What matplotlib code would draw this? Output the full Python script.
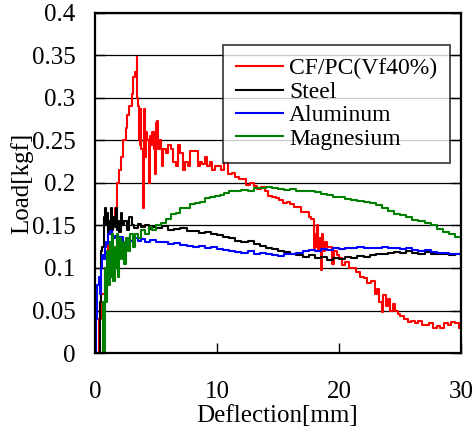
import matplotlib
matplotlib.use("Agg")
import matplotlib.pyplot as plt

plt.rcParams['font.family'] = ['Liberation Serif', 'DejaVu Serif']

# ---- data ----
cf_x = [0.0, 0.1, 0.3, 0.5, 0.8, 1.1, 1.4, 1.6, 1.8, 2.0, 2.1, 2.3, 2.5, 2.6, 2.8, 3.0, 3.1, 3.3, 3.4,
         3.45, 3.5, 3.6, 3.7, 3.75, 3.8, 3.9, 3.95, 4.0, 4.05, 4.1, 4.2, 4.3, 4.4, 4.5, 4.6, 4.7, 4.8,
         4.9, 5.0, 5.1, 5.2, 5.3, 5.4, 5.5, 5.6, 5.8, 6.0, 6.2, 6.4, 6.6, 6.8, 7.0, 7.2, 7.4, 7.6, 7.8,
         8.0, 8.2, 8.4, 8.6, 8.8, 9.0, 9.2, 9.4, 9.6, 9.8, 10.0, 10.3, 10.6, 10.9, 11.2, 11.5, 11.8,
         12.1, 12.4, 12.7, 13.0, 13.3, 13.6, 13.9, 14.2, 14.5, 14.8, 15.1, 15.4, 15.7, 16.0, 16.3, 16.6,
         16.9, 17.2, 17.5, 17.7, 17.9, 18.0, 18.1, 18.2, 18.3, 18.4, 18.5, 18.6, 18.7, 18.8, 19.0, 19.2,
         19.4, 19.6, 19.8, 20.0, 20.2, 20.5, 20.8, 21.1, 21.4, 21.7, 22.0, 22.3, 22.6, 22.9, 23.1, 23.3,
         23.5, 23.6, 23.8, 24.0, 24.2, 24.4, 24.6, 24.8, 25.0, 25.3, 25.6, 25.9, 26.2, 26.5, 26.8, 27.1,
         27.4, 27.7, 28.0, 28.3, 28.6, 28.9, 29.2, 29.5, 29.8, 30.0]
cf_y = [0.0, 0.0, 0.04, 0.07, 0.10, 0.13, 0.15, 0.17, 0.20, 0.215, 0.23, 0.25, 0.265, 0.28, 0.29, 0.305,
        0.325, 0.33, 0.348, 0.30, 0.29, 0.25, 0.245, 0.287, 0.24, 0.20, 0.17, 0.21, 0.287, 0.23, 0.26,
        0.25, 0.20, 0.255, 0.245, 0.26, 0.24, 0.21, 0.27, 0.273, 0.24, 0.25, 0.24, 0.22, 0.24, 0.235,
        0.245, 0.24, 0.225, 0.22, 0.245, 0.235, 0.215, 0.225, 0.22, 0.238, 0.238, 0.238, 0.22, 0.225,
        0.222, 0.23, 0.22, 0.225, 0.215, 0.22, 0.22, 0.215, 0.225, 0.21, 0.212, 0.207, 0.205, 0.205,
        0.198, 0.2, 0.197, 0.193, 0.195, 0.19, 0.185, 0.183, 0.182, 0.18, 0.176, 0.178, 0.175, 0.172,
        0.172, 0.166, 0.166, 0.16, 0.158, 0.123, 0.14, 0.125, 0.15, 0.12, 0.135, 0.098, 0.14, 0.12,
        0.13, 0.125, 0.125, 0.105, 0.12, 0.115, 0.112, 0.103, 0.107, 0.1, 0.1, 0.095, 0.09, 0.088,
        0.082, 0.085, 0.07, 0.075, 0.06, 0.048, 0.068, 0.055, 0.063, 0.05, 0.058, 0.05, 0.046, 0.043,
        0.04, 0.037, 0.038, 0.035, 0.038, 0.033, 0.033, 0.035, 0.03, 0.032, 0.03, 0.035, 0.033, 0.037,
        0.035, 0.03, 0.025]

steel_x = [0.3, 0.4, 0.5, 0.6, 0.7, 0.8, 0.9, 1.0, 1.1, 1.2, 1.3, 1.4, 1.5, 1.6, 1.7, 1.8, 1.9, 2.0,
           2.1, 2.2, 2.4, 2.6, 2.8, 3.0, 3.2, 3.5, 3.8, 4.1, 4.4, 4.7, 5.0, 5.5, 6.0, 6.5, 7.0, 7.5, 8.0,
           8.5, 9.0, 9.5, 10.0, 10.5, 11.0, 11.5, 12.0, 12.5, 13.0, 13.5, 14.0, 14.5, 15.0, 15.5, 16.0,
           16.5, 17.0, 17.5, 18.0, 18.5, 19.0, 19.5, 20.0, 20.5, 21.0, 21.5, 22.0, 22.5, 23.0, 23.5,
           24.0, 24.5, 25.0, 25.5, 26.0, 26.5, 27.0, 27.5, 28.0, 28.5, 29.0, 29.5, 30.0]
steel_y = [0.0, 0.06, 0.12, 0.125, 0.16, 0.17, 0.15, 0.165, 0.14, 0.155, 0.17, 0.145, 0.16, 0.148, 0.17,
           0.145, 0.155, 0.142, 0.165, 0.15, 0.155, 0.145, 0.16, 0.15, 0.147, 0.152, 0.148, 0.15, 0.146,
           0.148, 0.147, 0.149, 0.145, 0.146, 0.147, 0.143, 0.144, 0.141, 0.142, 0.14, 0.139, 0.137,
           0.135, 0.132, 0.13, 0.132, 0.128, 0.126, 0.123, 0.122, 0.12, 0.119, 0.117, 0.115, 0.113,
           0.115, 0.112, 0.113, 0.109, 0.112, 0.111, 0.113, 0.112, 0.114, 0.113, 0.115, 0.116, 0.117,
           0.118, 0.119, 0.118, 0.12, 0.118, 0.117, 0.119, 0.117, 0.116, 0.117, 0.115, 0.116, 0.113]

alu_x = [0.0, 0.1, 0.2, 0.3, 0.4, 0.5, 0.6, 0.7, 0.8, 0.9, 1.0, 1.1, 1.2, 1.4, 1.6, 1.8, 2.0, 2.3, 2.6,
         2.9, 3.2, 3.5, 3.8, 4.1, 4.5, 5.0, 5.5, 6.0, 6.5, 7.0, 7.5, 8.0, 8.5, 9.0, 9.5, 10.0, 10.5,
         11.0, 11.5, 12.0, 12.5, 13.0, 13.5, 14.0, 14.5, 15.0, 15.5, 16.0, 16.5, 17.0, 17.5, 18.0,
         18.5, 19.0, 19.5, 20.0, 20.5, 21.0, 21.5, 22.0, 22.5, 23.0, 23.5, 24.0, 24.5, 25.0, 25.5,
         26.0, 26.5, 27.0, 27.5, 28.0, 28.5, 29.0, 29.5, 30.0]
alu_y = [0.0, 0.04, 0.08, 0.09, 0.07, 0.1, 0.115, 0.11, 0.125, 0.13, 0.128, 0.14, 0.143, 0.135, 0.138,
         0.132, 0.136, 0.13, 0.135, 0.132, 0.135, 0.132, 0.134, 0.13, 0.133, 0.13, 0.131, 0.128, 0.129,
         0.127, 0.126, 0.125, 0.126, 0.123, 0.125, 0.122, 0.121, 0.12, 0.119, 0.118, 0.12, 0.117, 0.118,
         0.116, 0.115, 0.114, 0.116, 0.117, 0.118, 0.12, 0.121, 0.12, 0.122, 0.121, 0.123, 0.122, 0.124,
         0.123, 0.125, 0.124, 0.123, 0.124, 0.125, 0.123, 0.124, 0.122, 0.123, 0.121, 0.12, 0.121,
         0.119, 0.118, 0.118, 0.117, 0.116, 0.113]

mg_x = [0.0, 0.6, 0.65, 0.75, 0.8, 0.9, 1.0, 1.1, 1.2, 1.3, 1.4, 1.5, 1.6, 1.7, 1.8, 1.9, 2.0, 2.1, 2.2,
        2.4, 2.5, 2.7, 2.9, 3.1, 3.3, 3.5, 3.8, 4.1, 4.4, 4.7, 5.0, 5.4, 5.8, 6.2, 6.6, 7.0, 7.4, 7.8,
        8.2, 8.6, 9.0, 9.4, 9.8, 10.2, 10.6, 11.0, 11.5, 12.0, 12.5, 13.0, 13.5, 14.0, 14.5, 15.0, 15.5,
        16.0, 16.5, 17.0, 17.5, 18.0, 18.5, 19.0, 19.5, 20.0, 20.5, 21.0, 21.5, 22.0, 22.5, 23.0, 23.5,
        24.0, 24.5, 25.0, 25.5, 26.0, 26.5, 27.0, 27.5, 28.0, 28.5, 29.0, 29.5, 30.0]
mg_y = [0.0, 0.0, 0.06, 0.0, 0.1, 0.06, 0.12, 0.08, 0.13, 0.09, 0.14, 0.085, 0.125, 0.1, 0.14, 0.09,
        0.135, 0.11, 0.13, 0.105, 0.135, 0.12, 0.14, 0.125, 0.14, 0.135, 0.145, 0.14, 0.148, 0.145, 0.15,
        0.153, 0.158, 0.163, 0.165, 0.17, 0.17, 0.175, 0.177, 0.178, 0.182, 0.183, 0.185, 0.186, 0.188,
        0.19, 0.19, 0.192, 0.191, 0.194, 0.194, 0.195, 0.194, 0.193, 0.192, 0.193, 0.191, 0.19, 0.19,
        0.189, 0.187, 0.186, 0.184, 0.183, 0.181, 0.18, 0.179, 0.178, 0.176, 0.174, 0.17, 0.167, 0.164,
        0.162, 0.16, 0.157, 0.155, 0.153, 0.15, 0.146, 0.142, 0.14, 0.137, 0.133]

labels = ['CF/PC(Vf40%)', 'Steel', 'Aluminum', 'Magnesium']
colors = ['#ff0000', '#000000', '#0000ff', '#008000']

x_ticks = [0, 10, 20, 30]
y_ticks = [0, 0.05, 0.1, 0.15, 0.2, 0.25, 0.3, 0.35, 0.4]
y_ticklabels = ['0', '0.05', '0.1', '0.15', '0.2', '0.25', '0.3', '0.35', '0.4']

# ---- figure ----
fig = plt.figure(figsize=(4.75, 4.30), dpi=100)
ax = fig.add_axes([0.200, 0.179, 0.771, 0.791])

series = [(cf_x, cf_y), (steel_x, steel_y), (alu_x, alu_y), (mg_x, mg_y)]
for (xs, ys), lab, col in zip(series, labels, colors):
    ax.plot(xs, ys, color=col, lw=1.5, label=lab, drawstyle='steps-post')

ax.set_xlim(0, 30)
ax.set_ylim(0, 0.4)
ax.set_xticks(x_ticks)
ax.set_yticks(y_ticks)
ax.set_yticklabels(y_ticklabels)
ax.yaxis.grid(True, color='black', lw=0.9)
ax.set_axisbelow(True)
ax.tick_params(axis='x', direction='in', length=7, width=1, pad=20, labelsize=18)
ax.tick_params(axis='y', direction='in', length=7, width=1, pad=14, labelsize=18, right=True)
for s in ax.spines.values():
    s.set_linewidth(1.6)

ax.set_xlabel('Deflection[mm]', fontsize=18)
ax.set_ylabel('Load[kgf]', fontsize=18)
ax.xaxis.set_label_coords(0.497, -0.152)
ax.yaxis.set_label_coords(-0.17, 0.50)

leg = ax.legend(loc='upper right', bbox_to_anchor=(0.97, 0.906), borderaxespad=0,
                fontsize=17, frameon=True, fancybox=False, edgecolor='black',
                handlelength=2.0, handletextpad=0.25, labelspacing=0.08, borderpad=0.55)
leg.get_frame().set_linewidth(1.2)

fig.savefig('out.png', dpi=100)
